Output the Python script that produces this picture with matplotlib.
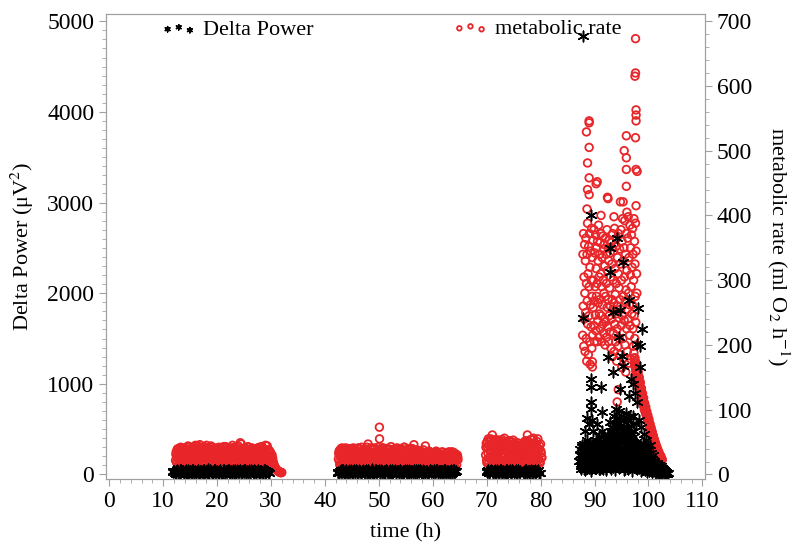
import numpy as np
import matplotlib
matplotlib.use("Agg")
import matplotlib.pyplot as plt
from matplotlib.ticker import MultipleLocator

plt.rcParams["font.family"] = ["Liberation Serif", "DejaVu Serif"]
plt.rcParams["mathtext.fontset"] = "stix"

def vals(s):
    return np.array(s.split(), dtype=float)

def times(start, step, n):
    return start + step * np.arange(n)

# ---- metabolic rate (ml O2 h-1), regular sampling blocks ----
RED_STEP = 0.125
RED_C1_START, RED_C1B_START = 12.3, 12.36
red_c1 = vals("""
22 35 18 30 40 26 15 33 38 21 28 41 17 36 24 31 39 19 27 42
25 16 34 40 29 20 37 43 23 32 18 38 27 44 30 21 46 26 35 19
33 41 24 17 38 29 45 22 36 40 28 16 34 42 25 31 19 37 26 39
23 35 18 40 30 27 38 15 33 24 41 29 20 36 43 26 17 32 39 22
34 28 41 19 37 25 30 42 16 35 27 39 22 44 31 24 49 20 36 40
26 33 18 41 29 38 21 35 42 24 30 17 37 27 40 23 34 19 39 28
32 25 41 20 36 29 16 38 43 24 31 22 39 27 35 18 44 30 25 37
21 33""")
red_c1b = vals("""
31 19 39 25 16 36 28 42 20 33 24 38 14 29 40 22 35 17 44 27
37 23 15 32 41 26 19 36 30 45 21 34 16 39 28 24 42 18 33 37
20 29 43 25 15 36 31 40 22 27 17 38 44 24 32 19 35 26 41 16
30 37 22 28 42 19 34 25 39 16 31 43 23 29 36 20 38 27 15 33
40 24 30 18 45 26 35 21 39 28 16 42 33 25 19 37 29 47 22 34
18 40 27 31 23 36 15 43 30 26 38 20 34 41 17 29 37 24 32 21
39 16 34 28 42 23 31 19 37 26 40 20 33 45 24 17 29 38 22 30
35 26""")
red_c1_tail_t = [30.2, 30.3, 30.4, 30.5, 30.6, 30.7, 30.8, 30.9, 31.0, 31.1,
                 31.2, 31.3, 31.4, 31.5, 31.6, 31.7, 31.8, 31.9, 32.0]
red_c1_tail_v = [30, 25, 20, 16, 14, 12, 10, 9, 8, 7, 6, 5, 5, 4, 4, 3, 3, 3, 3]

RED_C2_START, RED_C2B_START = 42.5, 42.56
red_c2 = vals("""
24 36 15 31 40 20 28 38 13 34 26 41 18 30 37 22 12 35 29 39
17 33 41 25 14 38 27 36 21 40 30 16 35 24 42 19 31 37 11 28
39 23 34 15 47 29 36 20 41 26 13 38 32 18 40 25 35 14 30 42
22 55 27 39 16 33 41 24 12 36 29 40 19 34 26 38 15 31 43 21
37 28 14 39 24 33 18 41 30 12 35 26 40 20 32 16 38 27 42 23
13 36 29 39 21 34 17 40 25 31 14 37 46 22 33 11 38 27 35 19
30 36 12 28 34 20 38 16 31 44 24 10 33 27 15 35 22 30 9 32
25 13 34 18 29 36 11 27 33 21 10 31 26 16 35 23 12 30 28 9
33 20 14 29 35 17 26 11 32 24 15 34 19 28 10 30 22 27""")
red_c2b = vals("""
32 20 38 14 27 41 23 35 17 30 39 12 26 36 21 33 40 16 28 24
37 13 31 22 39 18 34 26 15 41 29 20 36 11 33 27 38 23 14 35
30 19 42 25 37 16 33 28 12 39 22 34 18 41 27 14 36 31 24 17
38 29 13 35 23 41 20 30 37 15 26 33 40 18 28 22 39 12 34 25
16 36 31 21 40 14 27 35 19 33 24 38 11 30 26 37 17 42 21 29
36 15 32 25 39 18 28 34 12 40 23 30 16 37 26 13 33 21 36 29
18 31 11 26 35 22 14 32 27 19 34 9 29 23 36 16 31 25 12 28
33 20 10 30 24 35 15 27 32 11 25 29 18 34 13 22 31 26 10 27
20 33 16 28 12 31 24 18 35 14 29 21 9 32 26 15 30 23""")
red_c2_extra_t = [50.1]
red_c2_extra_v = [73]

RED_C3_START, RED_C3B_START = 69.8, 69.86
red_c3 = vals("""
30 48 18 42 55 25 37 52 15 44 61 28 50 20 39 54 33 16 47 26
53 35 19 45 29 51 22 41 56 17 38 49 24 43 14 52 31 46 21 40
27 53 18 36 48 23 44 15 39 32 20 38 16 30 41 26 49 35 19 52
28 45 61 22 50 37 17 54 31 43 25 56 20 47 34 15 51 29 40 23
44 18 36 27""")
red_c3b = vals("""
42 22 51 33 17 46 28 55 36 19 49 31 44 24 53 18 40 29 50 35
21 47 38 16 54 26 43 32 20 48 37 15 45 28 52 23 41 34 18 50
30 46 22 39 17 35 27 49 21 44 31 18 42 25 14 36 22 45 29 48
38 20 52 33 26 46 19 41 35 54 28 22 49 36 17 43 31 55 24 39
20 47 33 26""")

# peak episode
RED_PK_START, RED_PK_STEP = 87.8, 0.05
red_pk = vals("""
215 340 260 372 198 305 240 355 280 190 330 250
365 210 295 175 340 268 388 232 310 185 352 245 290 372 205 320 170 262 345 228 300 380 195 275
335 215 362 258 300 230 378 268 205 342 290 246 370 222 318 275 350 205 295 360 238 330 265 385 212 305 248 340
270 358 225 310 372 245 290 205 335 262 368 232 300 348 218 280 355 240 322 200
365 275 236 340 295 212 378 258 315 228 350 270 205 330 245 362 288 220 342 260
305 195 358 240 325 270 182 372 255 300 218 345 265 190 380 232 318 278 205 352
248 295 175 365 225 335 260 198 310 372 242 288 210 348 270 185 325 255 378 230
300 165 360 245 395 210 330 275 180 350 238 305 392 200 268 340 158 285 372 225
315 255 190 365 240 398 280 172 335 262 215 385 230 308 350 178 290 370 248 320
262 380 225 340 198 300 395 245 360 210 325 275 388 235 345 200 310 280""")

RED_TAIL_START, RED_TAIL2_START, RED_TAIL_STEP = 97.3, 97.35, 0.1
red_tail = vals("""
188 172 180 164 172 155 165 146 158 140 150 132 142 125 133 117 125 110 118 104
110 98 104 92 97 86 91 80 85 74 78 68 72 62 66 56 60 51 54 46
49 41 44 37 39 33 35 30 31 27 28 25 24""")
red_tail2 = vals("""
180 168 175 160 166 150 158 142 150 136 143 128 134 120 126 113 118 107 111 100
104 95 98 88 91 82 85 77 79 70 73 65 67 59 61 53 56 48 50 43
45 39 41 35 36 31 32 28 29 26 25 23 22""")

red_out_t = [97.6, 97.6, 97.5, 97.7, 97.7, 97.7, 89.0, 89.0, 88.5, 95.9,
             97.6, 89.0, 95.5, 95.9, 88.7, 95.9, 97.7, 97.9, 89.0, 90.5,
             90.3, 95.9, 88.7, 89.0, 92.4, 92.5, 94.8, 95.3, 89.6, 89.6,
             94.4, 94.2, 88.6, 96.0, 97.7, 91.2, 93.6]
red_out_v = [673, 620, 615, 563, 555, 546, 546, 543, 529, 523,
             520, 505, 500, 489, 481, 471, 471, 468, 458, 452,
             449, 445, 440, 432, 428, 426, 421, 421, 174, 166,
             131, 112, 410, 405, 415, 400, 398]

# ---- Delta power (uV^2) ----
BLK_STEP = 0.25
BLK_C1_START, BLK_C1B_START = 11.8, 11.9
blk_c1 = vals("""
22 38 10 45 28 15 52 33 8 41 25 47 18 36 12 50 30 20 43 27
9 39 24 48 14 34 55 19 42 29 11 46 26 37 16 51 32 21 44 13
35 49 23 40 7 31 53 17 38 28 45 12 33 50 20 41 26 15 47 36
10 42 24 52 18 39 30 14 46 27 35 21""")
blk_c1b = vals("""
40 18 33 50 12 44 27 36 20 48 9 31 42 24 53 15 38 29 46 11
35 22 49 17 40 28 13 45 33 19 51 26 37 10 43 30 21 47 14 39
25 52 18 34 44 12 29 48 23 36 16 41 31 50 20 27 45 11 38 24
49 15 33 42 19 36 28 46 13 40 22""")
BLK_C2_START, BLK_C2B_START = 42.4, 42.5
blk_c2 = vals("""
30 12 44 25 53 18 37 9 48 22 40 15 51 28 35 11 46 20 42 33
8 49 26 38 14 55 31 19 45 24 36 10 50 27 41 16 47 21 34 13
52 29 39 17 43 23 54 12 37 30 45 18 26 49 11 40 32 20 46 15
35 51 24 9 42 28 38 13 48 22 33 44 16 50 27 36 10 41 25 47
19 39 31 14 45 21 53 29 34""")
blk_c2b = vals("""
17 42 28 50 13 36 45 22 31 54 16 39 26 47 11 34 43 20 51 29
37 14 48 23 40 32 10 46 25 35 52 18 41 27 12 49 33 21 44 30
15 38 53 24 36 19 47 28 10 42 26 51 16 34 39 22 45 13 31 48
27 37 20 50 14 41 29 23 46 33 11 39 25 52 18 35 43 21 30 47
12 40 28 36 16 44 24""")
BLK_C3A_START, BLK_C3B_START = 70.0, 76.8
BLK_C3C_START, BLK_C3D_START = 70.1, 76.9
blk_c3a = vals("28 44 15 50 33 20 47 11 38 26 53 18 41 30 9 45 24 36 13 49 29 40 17 52 22 35")
blk_c3b = vals("31 12 46 25 39 18 51 27 42 14 36 48 21")
blk_c3c = vals("42 19 35 51 24 39 12 46 30 21 49 16 37 28 44 10 33 47 20 38 26 52 15 41 31")
blk_c3d = vals("22 44 17 38 29 50 13 35 46 24 40 19")

BLK_PK_START, BLK_PK_STEP = 87.2, 0.1
blk_pk = vals("""
150 280 95 230 320 120 260 180
340 110 250 75 300 190 380 130 270 85 220 350 160 60 290 140 330 100 240 200
120 310 70 260 180 340 95 230 150 290 55 200 320 130 270 80 240 360 110 210
170 300 65 250 140 330 90 280 190 230
150 420 90 310 230 480 130 360 200 270 100 450 180 330 250 80 390 160 290 500
120 350 220 430 140 280 60 400 190 320 240 470 110 370 170 300 210 440 95 340
260 150 410 120 290 200 360 85 250 310
180 330 100 260 140 300 70 220 280 120 350 90 240 160 200 60 310 130 230 80
270 110 190 50 240 140 170 70 210 100
150 60 120 90 40 130 75 100 30 110 55 85 25 95 45 70 20 60 35 50
15 40 25 30 10 20 15""")
BLK_PK2_START, BLK_PK2_STEP = 87.4, 0.2
blk_pk2 = vals("""
60 140 90 200 50 170 110 210 70 150 40 190 120 80 220 100 160 55 180 130
75 200 95 150 45 170 115 210 65 140 85 190 50 160 120 205 70 135 100 180
45 150 90 195 60 130 110 170 40 145 80 185 55 120 95 160 35 130 70 110
50 140 30 100 65 85 25 90 45 70 20 60 35 50 15 40 25 30 10 20 15""")
BLK_PK3_START, BLK_PK3_STEP = 87.3, 0.15
blk_pk3 = vals("""
210 90 300 160 250 60 330 180 120 280 200 90 350 150 240 70 310 190 110 270
160 80 290 220 130 340 100 260 180 60 310 140 230 380 120 290 170 420 90 330
250 510 150 380 210 560 120 440 280 190 600 160 350 240 470 110 390 270 520 180
320 140 430 230 370 100 280 200 330 90 250 160 290 70 220 130 260 60 190 110
170 50 150 90 120 40 110 70 90 30 80 50 60 25 55 35 40 20 30 15 25 10""")

blk_out_t = [87.8, 89.3, 94.1, 92.8, 95.2, 92.8, 96.3, 98.1, 94.8, 93.4,
             87.8, 98.8, 94.6, 97.9, 98.4, 92.5, 95.1, 89.3, 89.3, 91.2,
             89.3, 91.4, 89.3, 88.3, 89.8, 91.4, 92.9, 94.8, 93.4, 95.3,
             96.3, 97.2, 96.6, 94.2, 97.9, 95.7, 92.3, 98.4, 90.5, 93.9,
             96.8, 97.5, 95.9, 88.6, 90.2,
             93.6, 94.0, 94.5, 95.0, 95.4, 95.8, 96.2, 96.7, 97.1, 97.6,
             93.2, 94.9, 96.0, 97.3, 98.2, 98.6, 99.2, 99.6, 100.2, 91.8,
             90.8, 88.9, 89.5]
blk_out_v = [4836, 2862, 2610, 2500, 2340, 2237, 1930, 1842, 1820, 1795,
             1725, 1601, 1520, 1436, 1414, 1294, 1305, 1053, 965, 965,
             800, 690, 724, 482, 482, 482, 581, 943, 1129, 1195,
             866, 998, 647, 614, 800, 428, 417, 1184, 560, 720,
             1050, 900, 620, 620, 380,
             650, 560, 700, 610, 520, 680, 590, 530, 640, 560,
             520, 450, 470, 480, 600, 520, 450, 380, 330, 430,
             420, 560, 600]

# assemble series
red_t = np.concatenate([
    times(RED_C1_START, RED_STEP, len(red_c1)), times(RED_C1B_START, RED_STEP, len(red_c1b)),
    red_c1_tail_t,
    times(RED_C2_START, RED_STEP, len(red_c2)), times(RED_C2B_START, RED_STEP, len(red_c2b)),
    red_c2_extra_t,
    times(RED_C3_START, RED_STEP, len(red_c3)), times(RED_C3B_START, RED_STEP, len(red_c3b)),
    times(RED_PK_START, RED_PK_STEP, len(red_pk)),
    times(RED_TAIL_START, RED_TAIL_STEP, len(red_tail)),
    times(RED_TAIL2_START, RED_TAIL_STEP, len(red_tail2)), red_out_t])
red_v = np.concatenate([red_c1, red_c1b, red_c1_tail_v, red_c2, red_c2b, red_c2_extra_v,
                        red_c3, red_c3b, red_pk, red_tail, red_tail2, red_out_v])

blk_t = np.concatenate([
    times(BLK_C1_START, BLK_STEP, len(blk_c1)), times(BLK_C1B_START, BLK_STEP, len(blk_c1b)),
    times(BLK_C2_START, BLK_STEP, len(blk_c2)), times(BLK_C2B_START, BLK_STEP, len(blk_c2b)),
    times(BLK_C3A_START, BLK_STEP, len(blk_c3a)), times(BLK_C3B_START, BLK_STEP, len(blk_c3b)),
    times(BLK_C3C_START, BLK_STEP, len(blk_c3c)), times(BLK_C3D_START, BLK_STEP, len(blk_c3d)),
    times(BLK_PK_START, BLK_PK_STEP, len(blk_pk)),
    times(BLK_PK2_START, BLK_PK2_STEP, len(blk_pk2)),
    times(BLK_PK3_START, BLK_PK3_STEP, len(blk_pk3)), blk_out_t])
blk_v = np.concatenate([blk_c1, blk_c1b, blk_c2, blk_c2b, blk_c3a, blk_c3b, blk_c3c, blk_c3d,
                        blk_pk, blk_pk2, blk_pk3, blk_out_v])

RED = "#e8262a"
GREY = "#a0a0a0"

fig = plt.figure(figsize=(7.94, 5.46), dpi=100)
ax = fig.add_axes([0.1335, 0.1227, 0.7545, 0.8516])
ax2 = ax.twinx()

hr = ax2.scatter(red_t, red_v, marker="o", s=30, facecolors="none",
                 edgecolors=RED, linewidths=1.3)
hb = ax.scatter(blk_t, blk_v, marker=(6, 2, 0), s=58, c="black", linewidths=1.1)

ax.set_zorder(ax2.get_zorder() + 1)
ax.patch.set_visible(False)

ax.set_xlim(-0.6, 110.5)
ax.set_ylim(-50, 5080)
ax2.set_ylim(-7, 711)

ax.xaxis.set_major_locator(MultipleLocator(10))
ax.xaxis.set_minor_locator(MultipleLocator(2))
ax.yaxis.set_major_locator(MultipleLocator(1000))
ax.yaxis.set_minor_locator(MultipleLocator(100))
ax2.yaxis.set_major_locator(MultipleLocator(100))
ax2.yaxis.set_minor_locator(MultipleLocator(20))

for a in (ax, ax2):
    a.tick_params(which="both", direction="out", color=GREY, labelsize=17)
    a.tick_params(which="major", length=5)
    a.tick_params(which="minor", length=3)
    for sp in a.spines.values():
        sp.set_color(GREY)

ax.set_xlabel("time (h)", fontsize=16, labelpad=8)
ax.set_ylabel("Delta Power (μV$^2$)", fontsize=16, labelpad=8)
ax2.set_ylabel("metabolic rate (ml O$_2$ h$^{-1}$)", fontsize=16,
               rotation=270, labelpad=28)

lg1 = ax.legend([hb], ["Delta Power"], loc="upper left", bbox_to_anchor=(0.088, 0.993),
                frameon=False, scatterpoints=3, markerscale=0.5, fontsize=16,
                handlelength=1.6, handletextpad=0.3, borderpad=0.1, borderaxespad=0)
ax.add_artist(lg1)
ax.legend([hr], ["metabolic rate"], loc="upper left", bbox_to_anchor=(0.575, 0.995),
          frameon=False, scatterpoints=3, markerscale=0.6, fontsize=16,
          handlelength=1.6, handletextpad=0.3, borderpad=0.1, borderaxespad=0)

fig.savefig("out.png", dpi=100)
